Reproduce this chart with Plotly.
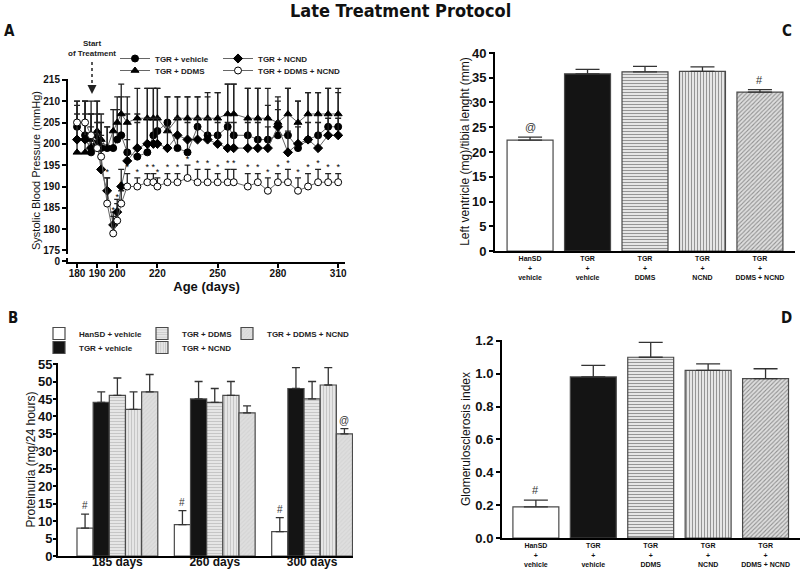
"""
Late Treatment Protocol - 4 panels (A-D) recreated with Plotly.
"""
import plotly.graph_objects as go

# ---------- Panel A : systolic blood pressure ----------
days = [180, 184, 187, 190, 192, 195, 198, 200, 202, 205, 210, 215, 218, 220, 225, 230,
        235, 240, 245, 250, 255, 258, 265, 270, 275, 280, 285, 290, 295, 300, 305, 310]

sbp_vehicle = [204, 202, 198, 202, 199, 199, 199, 201, 202, 198, 197, 198, 202, 203, 205, 199,
               198, 204, 202, 202, 204, 202, 202, 201, 201, 202, 202, 199, 201, 202, 204, 204]
sbp_vehicle_err = [6, 8, 9, 8, 6, 5, 4, 7, 9, 9, 10, 15, 11, 10, 6, 12,
                   13, 7, 9, 10, 10, 12, 11, 12, 8, 8, 11, 11, 11, 10, 9, 9]

sbp_ddms = [198, 198, 201, 203, 201, 199, 203, 205, 207, 205, 206, 206, 206, 206, 203, 206,
            206, 206, 206, 206, 207, 207, 206, 206, 206, 205, 207, 205, 207, 207, 207, 207]
sbp_ddms_err = [12, 12, 9, 7, 6, 5, 5, 6, 7, 6, 7, 7, 7, 7, 8, 5,
                5, 5, 6, 6, 7, 7, 7, 7, 7, 6, 6, 5, 5, 5, 6, 5]

sbp_ncnd = [201, 201, 199, 200, 194, 189, 181, 184, 190, 196, 199, 200, 200, 200, 199, 202,
            201, 201, 201, 200, 199, 199, 199, 199, 199, 204, 198, 200, 201, 199, 202, 202]
sbp_ncnd_err = [6, 6, 5, 7, 6, 3, 3, 3, 4, 5, 6, 6, 6, 6, 5, 4,
                4, 5, 5, 5, 6, 6, 6, 6, 5, 4, 5, 4, 4, 6, 4, 4]

sbp_combo = [205, 205, 202, 199, 197, 186, 179, 182, 186, 190, 190, 191, 191, 190, 191, 191,
             192, 191, 191, 191, 191, 191, 190, 191, 189, 191, 191, 189, 190, 191, 191, 191]
sbp_combo_err = [4, 5, 5, 6, 5, 6, 4, 4, 3, 3, 2, 2, 2, 2, 2, 2,
                 3, 3, 3, 2, 3, 3, 3, 2, 3, 2, 3, 3, 3, 3, 2, 2]

a_xticks = [180, 190, 200, 220, 250, 280, 310]
a_yticks = [175, 180, 185, 190, 195, 200, 205, 210, 215]

# ---------- Panel B : proteinuria ----------
b_times = ["185 days", "260 days", "300 days"]
b_groups = ["HanSD + vehicle", "TGR + vehicle", "TGR + DDMS", "TGR + NCND", "TGR + DDMS + NCND"]
b_values = [
    [8, 9, 7],
    [44, 45, 48],
    [46, 44, 45],
    [42, 46, 49],
    [47, 41, 35],
]
b_errors = [
    [4, 4, 4],
    [3, 5, 6],
    [5, 4, 5],
    [5, 4, 5],
    [5, 2, 1.5],
]
b_marks = [
    ["#", "#", "#"],
    ["", "", ""],
    ["", "", ""],
    ["", "", ""],
    ["", "", "@"],
]

# ---------- Panels C and D ----------
cd_labels = ["HanSD<br>+<br>vehicle", "TGR<br>+<br>vehicle", "TGR<br>+<br>DDMS",
             "TGR<br>+<br>NCND", "TGR<br>+<br>DDMS + NCND"]
lv_values = [22.4, 35.8, 36.2, 36.3, 32.1]
lv_errors = [0.6, 0.9, 1.1, 0.9, 0.5]
lv_marks = ["@", "", "", "", "#"]

gs_values = [0.19, 0.98, 1.10, 1.02, 0.97]
gs_errors = [0.04, 0.07, 0.09, 0.04, 0.06]
gs_marks = ["#", "", "", "", ""]

FONT = "Liberation Sans"
NARROW = "DejaVu Sans Condensed, Liberation Sans"
W, H = 800, 571
EDGE = "#4a4a4a"
BARGAP = 0.17

# bar styles per group: (fill, pattern shape, pattern fg)
styles = [
    ("#ffffff", "", "#ffffff"),
    ("#141414", "", "#141414"),
    ("#e6e6e6", "-", "#a5a5a5"),
    ("#e6e6e6", "|", "#a5a5a5"),
    ("#dedede", "/", "#cacaca"),
]


def px_x(p):
    return p / W


def px_y(p):
    return 1 - p / H


fig = go.Figure()

# --- Panel A traces (one legend box per entry, placed like the original) ---
a_series = [
    ("TGR + vehicle", sbp_vehicle, sbp_vehicle_err, "circle", "#000000", (115, 44)),
    ("TGR + DDMS", sbp_ddms, sbp_ddms_err, "triangle-up", "#000000", (115, 56)),
    ("TGR + NCND", sbp_ncnd, sbp_ncnd_err, "diamond", "#000000", (218, 44)),
    ("TGR + DDMS + NCND", sbp_combo, sbp_combo_err, "circle", "#ffffff", (218, 56)),
]
legend_pos = {}
for k, (name, vals, errs, sym, fill, pos) in enumerate(a_series):
    leg = "legend" if k == 0 else f"legend{k + 1}"
    legend_pos[leg] = pos
    fig.add_trace(go.Scatter(
        x=days, y=vals, name=name, mode="lines+markers",
        line=dict(color="#666666", width=1),
        marker=dict(symbol=sym, size=7, color=fill, line=dict(color="#000000", width=1)),
        error_y=dict(type="data", array=errs, arrayminus=[0] * len(errs), symmetric=False,
                     color="#222222", thickness=1.3, width=3),
        xaxis="x", yaxis="y", legend=leg,
    ))

# significance stars above DDMS + NCND
star_days = days[5:]
star_y = [v + e + 1.3 for v, e in zip(sbp_combo[5:], sbp_combo_err[5:])]
fig.add_trace(go.Scatter(
    x=star_days, y=star_y, mode="text", text=["*"] * len(star_days),
    textfont=dict(family=FONT, size=9, color="#000000"), showlegend=False,
    xaxis="x", yaxis="y", hoverinfo="skip",
))

# --- Panel B traces ---
b_legend_xy = [(39, 319), (39, 333), (142, 319), (142, 333), (227, 319)]
for i, name in enumerate(b_groups):
    fill, shape, fg = styles[i]
    leg = f"legend{5 + i}"
    legend_pos[leg] = b_legend_xy[i]
    fig.add_trace(go.Bar(
        x=b_times, y=b_values[i], name=name,
        marker=dict(color=fill, line=dict(color=EDGE, width=1.2),
                    pattern=dict(shape=shape, fgcolor=fg, bgcolor=fill, size=3, solidity=0.35)),
        error_y=dict(type="data", array=b_errors[i], arrayminus=[0, 0, 0], symmetric=False,
                     color="#333333", thickness=1.3, width=4),
        offsetgroup=str(i), xaxis="x2", yaxis="y2", legend=leg,
    ))

# marks above bars in B (category index + group offset)
slot = (1 - BARGAP) / len(b_groups)
for i in range(len(b_groups)):
    for j in range(len(b_times)):
        if b_marks[i][j]:
            fig.add_annotation(
                text=b_marks[i][j], xref="x2", yref="y2",
                x=j + (i - (len(b_groups) - 1) / 2) * slot,
                y=b_values[i][j] + b_errors[i][j], yanchor="bottom", yshift=1,
                showarrow=False, font=dict(family=FONT, size=10, color="#333333"))

# --- Panels C and D ---
for vals, errs, marks, xa, ya in [(lv_values, lv_errors, lv_marks, "x3", "y3"),
                                   (gs_values, gs_errors, gs_marks, "x4", "y4")]:
    fig.add_trace(go.Bar(
        x=cd_labels, y=vals, width=0.8, showlegend=False,
        marker=dict(color=[s[0] for s in styles], line=dict(color=EDGE, width=1.2),
                    pattern=dict(shape=[s[1] for s in styles], fgcolor=[s[2] for s in styles],
                                 bgcolor=[s[0] for s in styles], size=3, solidity=0.35)),
        error_y=dict(type="data", array=errs, arrayminus=[0] * 5, symmetric=False,
                     color="#333333", thickness=1.3, width=12),
        xaxis=xa, yaxis=ya,
    ))
    for j, m in enumerate(marks):
        if m:
            fig.add_annotation(text=m, xref=xa, yref=ya, x=j, y=vals[j] + errs[j],
                               yanchor="bottom", yshift=2, showarrow=False,
                               font=dict(family=FONT, size=11, color="#333333"))

axis_common = dict(showline=True, linecolor="#000000", linewidth=2, ticks="outside",
                   tickwidth=2, ticklen=4, tickcolor="#000000", showgrid=False,
                   zeroline=False, automargin=False,
                   tickfont=dict(family=FONT, size=11, color="#111111", weight="bold"))

legend_common = dict(font=dict(family=FONT, size=8, color="#222222", weight="bold"),
                     bgcolor="rgba(0,0,0,0)", tracegroupgap=0, itemwidth=30,
                     xanchor="left", yanchor="top", orientation="v")
legends = {leg: dict(legend_common, x=px_x(p[0]), y=px_y(p[1])) for leg, p in legend_pos.items()}

fig.update_layout(
    width=W, height=H,
    margin=dict(l=0, r=0, t=0, b=0),
    plot_bgcolor="white", paper_bgcolor="white",
    barmode="group", bargap=BARGAP, bargroupgap=0,
    font=dict(family=FONT, color="#111111"),
    xaxis=dict(axis_common, domain=[px_x(68), px_x(345)], range=[175.5, 313.4],
               tickvals=a_xticks, anchor="y", tickangle=0, ticklabelstandoff=-3,
               tickfont=dict(family=FONT, size=10, color="#111111", weight="bold"),
               title=dict(text="Age (days)", standoff=0,
                          font=dict(family=FONT, size=13, weight="bold"))),
    yaxis=dict(axis_common, domain=[px_y(262), px_y(79)], range=[172.3, 215.2],
               tickvals=[172.5] + a_yticks, ticktext=["0"] + [str(t) for t in a_yticks],
               anchor="x", tickfont=dict(family=FONT, size=10, color="#111111", weight="bold"),
               title=dict(text="Systolic Blood Pressure (mmHg)", standoff=0,
                          font=dict(family=FONT, size=11))),
    xaxis2=dict(axis_common, domain=[px_x(58), px_x(353)], range=[-0.61, 2.42],
                anchor="y2", ticks="", ticklabelstandoff=-6,
                tickfont=dict(family=FONT, size=12, weight="bold")),
    yaxis2=dict(axis_common, domain=[px_y(556), px_y(363)], range=[0, 55.3], dtick=5,
                anchor="x2", ticklen=3, ticklabelstandoff=-2,
                tickfont=dict(family=FONT, size=13, weight="bold"),
                title=dict(text="Proteinuria (mg/24 hours)", standoff=0,
                           font=dict(family=FONT, size=12))),
    xaxis3=dict(axis_common, domain=[px_x(495), px_x(795)], range=[-0.61, 4.61],
                anchor="y3", ticks="", tickfont=dict(family=FONT, size=7, weight="bold")),
    yaxis3=dict(axis_common, domain=[px_y(251), px_y(52)], range=[0, 40.2], dtick=5,
                anchor="x3", tickfont=dict(family=FONT, size=13, weight="bold"),
                title=dict(text="Left ventricle (mg)/tibia lenght (mm)", standoff=0,
                           font=dict(family=FONT, size=12))),
    xaxis4=dict(axis_common, domain=[px_x(502), 1.0], range=[-0.59, 4.6],
                anchor="y4", ticks="", tickfont=dict(family=FONT, size=7, weight="bold")),
    yaxis4=dict(axis_common, domain=[px_y(538), px_y(340)], range=[0, 1.205], dtick=0.2,
                tickformat=".1f", anchor="x4",
                tickfont=dict(family=FONT, size=13, weight="bold"),
                title=dict(text="Glomerulosclerosis index", standoff=2,
                           font=dict(family=FONT, size=12))),
    **legends,
)

# titles and panel letters
for txt, x, y, size in [("Late Treatment Protocol", 400, 10, 18), ("A", 9, 31, 15),
                        ("C", 787, 31, 15), ("B", 13, 318, 15), ("D", 786, 318, 15)]:
    fig.add_annotation(text=f"<b>{txt}</b>", x=px_x(x), y=px_y(y), xref="paper", yref="paper",
                       xanchor="center", yanchor="middle", showarrow=False,
                       font=dict(family=NARROW, size=size, color="#111111"))

# start of treatment marker
fig.add_annotation(text="<b>Start<br>of Treatment</b>", x=px_x(92), y=px_y(49), xref="paper",
                   yref="paper", xanchor="center", yanchor="middle", showarrow=False,
                   font=dict(family=FONT, size=8, color="#222222"))
fig.add_shape(type="line", xref="paper", yref="paper", x0=px_x(92), x1=px_x(92),
              y0=px_y(62), y1=px_y(88), line=dict(color="#222222", width=1.5, dash="dot"))
fig.add_annotation(text="", x=px_x(92), y=px_y(94), xref="paper", yref="paper",
                   showarrow=True, ax=0, ay=-6, arrowhead=2, arrowsize=1.2,
                   arrowwidth=1.5, arrowcolor="#222222")

# axis break on panel A y axis
fig.add_shape(type="rect", xref="paper", yref="paper", x0=px_x(64), x1=px_x(72),
              y0=px_y(258), y1=px_y(254), fillcolor="white", line=dict(width=0), layer="above")

fig.write_html("out.html", config={"displayModeBar": False},
               post_script="document.body.style.margin='0px';")
